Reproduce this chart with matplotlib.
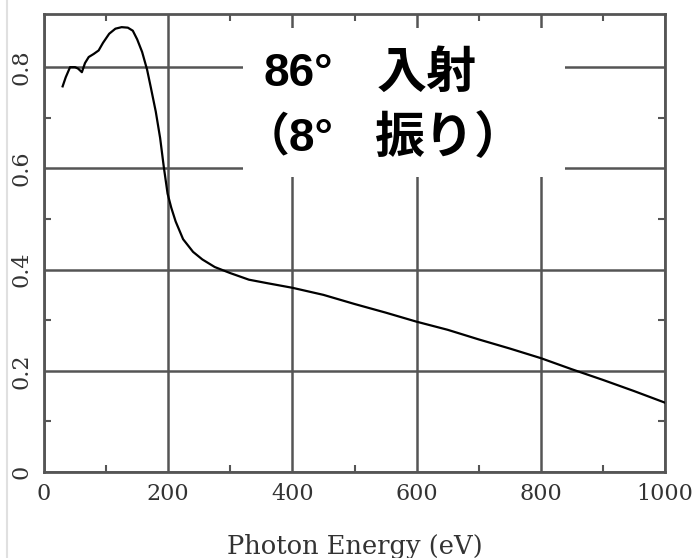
import numpy as np
import matplotlib.pyplot as plt
from matplotlib.patches import Rectangle
from matplotlib.lines import Line2D

# reflectance vs photon energy
energy = [30, 35, 42, 50, 55, 61, 66, 72, 80, 88, 95, 105, 115, 125, 135,
          143, 150, 158, 166, 172, 180, 187, 193, 199, 205, 212, 224, 240,
          255, 275, 300, 330, 360, 400, 450, 500, 550, 600, 650, 700, 750,
          800, 850, 900, 950, 1000]
reflect = [0.762, 0.780, 0.800, 0.800, 0.797, 0.790, 0.808, 0.820, 0.826,
           0.833, 0.848, 0.866, 0.876, 0.879, 0.878, 0.872, 0.855, 0.830,
           0.795, 0.760, 0.712, 0.660, 0.602, 0.550, 0.522, 0.495, 0.460,
           0.435, 0.420, 0.405, 0.393, 0.380, 0.373, 0.364, 0.350, 0.332,
           0.315, 0.297, 0.281, 0.262, 0.244, 0.225, 0.203, 0.182, 0.160,
           0.137]

xticks = [0, 200, 400, 600, 800, 1000]
yticks = [0, 0.2, 0.4, 0.6, 0.8]
ytick_labels = ['0', '0.2', '0.4', '0.6', '0.8']
# note: (text, x, y, size) in axes fraction
note_parts = [('86°', 0.354, 0.868, 33), ('入射', 0.535, 0.868, 36),
              ('（8°', 0.322, 0.728, 33), ('振り）', 0.533, 0.728, 36)]

gc = '#555555'
fig = plt.figure(figsize=(6.97, 5.58), dpi=100)
ax = fig.add_axes([44 / 697, 1 - 472 / 558, 621 / 697, 458 / 558])

ax.plot(energy, reflect, color='black', lw=1.6, zorder=3)

ax.set_xlim(0, 1000)
ax.set_ylim(0, 0.905)
ax.set_xticks(xticks)
ax.set_yticks(yticks)
ax.set_yticklabels(ytick_labels, rotation=90, va='center')
ax.set_xticks(np.arange(100, 1000, 200), minor=True)
ax.set_yticks(np.arange(0.1, 0.9, 0.2), minor=True)
ax.grid(True, which='major', color=gc, lw=1.8, zorder=1)
ax.tick_params(which='major', length=0, labelsize=16, colors='#333333', pad=8)
ax.tick_params(which='minor', direction='in', length=5, width=1.5, color=gc,
               top=True, right=True)
for lab in ax.get_xticklabels() + ax.get_yticklabels():
    lab.set_family('DejaVu Serif')
for s in ax.spines.values():
    s.set_color(gc)
    s.set_linewidth(2)
ax.set_xlabel('Photon Energy (eV)', family='DejaVu Serif', fontsize=18.5,
              color='#333333', labelpad=21)

# white note box over the upper grid
ax.add_patch(Rectangle((0.320, 0.644), 0.519, 0.325, transform=ax.transAxes,
                       facecolor='white', edgecolor='none', zorder=4))
fonts = ['Liberation Sans', 'Noto Sans CJK JP', 'DejaVu Sans']
for txt, x, y, size in note_parts:
    ax.text(x, y, txt, transform=ax.transAxes, family=fonts,
            fontsize=size, fontweight='bold', va='center', ha='left', zorder=5)

fig.add_artist(Line2D([7 / 697, 7 / 697], [0, 1], color='#e0e0e0', lw=1.5))

fig.savefig('out.png', dpi=100)
